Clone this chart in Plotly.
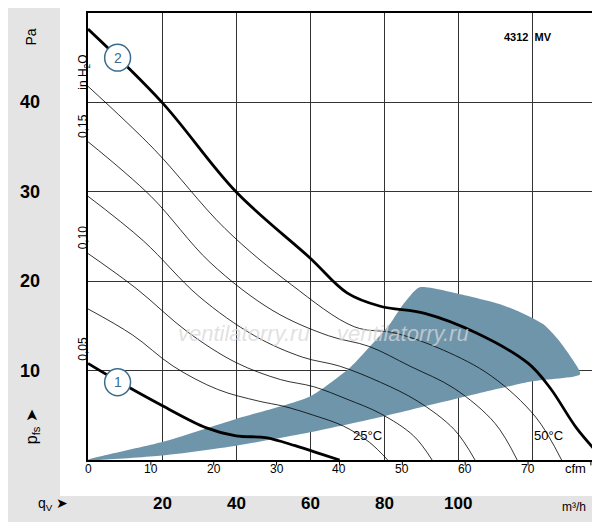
import plotly.graph_objects as go

# data in m3/h and Pa
c2_q = [0, 20, 40, 60, 70, 79, 91, 105, 119, 125, 132, 139.5]
c2_p = [48.2, 40, 30, 22.6, 18.7, 17.2, 16.4, 14.2, 10.8, 8.0, 3.6, 0]
c1_q = [0, 6.5, 20, 32, 40, 48, 56, 62, 68]
c1_p = [10.8, 9.2, 6.1, 3.6, 2.7, 2.5, 1.6, 0.8, 0]
thin = [
    ([0, 12, 23, 35, 46, 53, 61, 69, 76, 81], [16.9, 14.0, 10.5, 7.9, 6.6, 6.0, 5.0, 3.8, 2.0, 0]),
    ([0, 13, 27, 40, 52, 61, 70, 79, 88, 93], [23.1, 19.2, 14.3, 10.9, 9.0, 8.2, 6.8, 5.2, 2.7, 0]),
    ([0, 15, 30, 45, 58, 68, 79, 89, 99, 104.6], [29.5, 24.5, 18.3, 13.9, 11.5, 10.5, 8.7, 6.6, 3.4, 0]),
    ([0, 17, 33, 50, 65, 76, 87, 99, 110, 116], [35.6, 29.5, 22.1, 16.7, 13.9, 12.7, 10.5, 8.0, 4.1, 0]),
    ([0, 18, 37, 55, 72, 83, 96, 109, 121, 128], [41.8, 34.7, 25.9, 19.6, 14.9, 14.2, 12.3, 9.4, 4.8, 0]),
]
area_q = [0, 20, 40, 60, 80, 100, 120, 133, 131, 127, 123, 117, 111.6, 100, 89.5, 85, 81.6, 76, 71, 60, 40, 20, 0]
area_p = [0, 0.5, 1.6, 3.1, 4.9, 6.9, 8.8, 9.6, 11.2, 13.5, 15.2, 16.5, 17.4, 18.6, 19.3, 17.3, 15.2, 12.6, 10.4, 7.1, 4.6, 2.0, 0]
pa_ticks = [10, 20, 30, 40]
inh2o_ticks = ["0,05", "0,10", "0,15"]
inh2o_vals = [0.05, 0.10, 0.15]
cfm_ticks = [0, 10, 20, 30, 40, 50, 60, 70]
m3h_ticks = [20, 40, 60, 80, 100]

F = "Liberation Sans"
fig = go.Figure()
fig.add_trace(go.Scatter(x=area_q, y=area_p, fill="toself", fillcolor="#6f95ab",
                         line=dict(width=0, shape="spline", smoothing=0.6), mode="lines", hoverinfo="skip"))
for q, p in thin:
    fig.add_trace(go.Scatter(x=q, y=p, mode="lines", line=dict(color="black", width=0.8, shape="spline")))
fig.add_trace(go.Scatter(x=c2_q, y=c2_p, mode="lines", line=dict(color="black", width=2.8, shape="spline")))
fig.add_trace(go.Scatter(x=c1_q, y=c1_p, mode="lines", line=dict(color="black", width=2.8, shape="spline")))

gray = "#e4e4e4"
shapes = [
    dict(type="rect", xref="paper", yref="paper", x0=-0.16, x1=-0.054, y0=-0.17, y1=1.02,
         fillcolor=gray, line=dict(width=0), layer="below"),
    dict(type="rect", xref="paper", yref="paper", x0=-0.16, x1=1.01, y0=-0.17, y1=-0.0805,
         fillcolor=gray, line=dict(width=0), layer="below"),
]
for c in cfm_ticks[1:] + [80]:
    shapes.append(dict(type="line", xref="x", yref="paper", x0=c * 1.699, x1=c * 1.699,
                       y0=0, y1=-0.012, line=dict(color="black", width=1)))

ann = []
for v in pa_ticks:
    ann.append(dict(x=-0.135, xref="paper", y=v, yref="y", text=f"<b>{v}</b>", showarrow=False,
                    font=dict(size=18, family=F, color="black")))
for t, v in zip(inh2o_ticks, inh2o_vals):
    ann.append(dict(x=-0.027, xref="paper", y=v * 249.1, yref="y", text=t, showarrow=False, textangle=-90,
                    font=dict(size=12, family=F, color="black")))
for c in cfm_ticks:
    ann.append(dict(x=c * 1.699, xref="x", y=-0.04, yref="paper", text=str(c), showarrow=False,
                    font=dict(size=12, family=F, color="black")))
for m in m3h_ticks:
    ann.append(dict(x=m, xref="x", y=-0.122, yref="paper", text=f"<b>{m}</b>", showarrow=False,
                    font=dict(size=17, family=F, color="black")))
ann += [
    dict(x=-0.13, xref="paper", y=0.97, yref="paper", text="Pa", textangle=-90, showarrow=False,
         font=dict(size=14, family=F, color="black")),
    dict(x=-0.027, xref="paper", y=0.91, yref="paper", text="in H<sub>2</sub>O", textangle=-90, showarrow=False,
         font=dict(size=12, family=F, color="black")),
    dict(x=-0.13, xref="paper", y=0.03, yref="paper", text="p<sub>fs</sub> ➤", textangle=-90, showarrow=False,
         font=dict(size=16, family=F, color="black")),
    dict(x=-0.1, xref="paper", y=-0.122, yref="paper", text="q<sub>V</sub> ➤", showarrow=False,
         font=dict(size=14, family=F, color="black")),
    dict(x=0.965, xref="paper", y=-0.125, yref="paper", text="m³/h", showarrow=False,
         font=dict(size=12, family=F, color="black")),
    dict(x=0.965, xref="paper", y=-0.04, yref="paper", text="cfm", showarrow=False,
         font=dict(size=13, family=F, color="black")),
    dict(x=0.9, xref="paper", y=0.965, yref="paper", text="<b>4312  MV</b>", showarrow=False,
         font=dict(size=11, family=F, color="black")),
    dict(x=0.54, xref="paper", y=0.034, yref="paper", text="25°C", showarrow=False,
         font=dict(size=13, family=F, color="black")),
    dict(x=0.92, xref="paper", y=0.034, yref="paper", text="50°C", showarrow=False,
         font=dict(size=13, family=F, color="black")),
    dict(x=0.17, xref="paper", y=0.25, yref="paper", text="<i>ventilatorry.ru</i>", showarrow=False,
         font=dict(size=22, family=F, color="rgba(215,215,215,0.75)")),
    dict(x=0.74, xref="paper", y=0.25, yref="paper", text="<i>ventilatorry.ru</i>", showarrow=False,
         font=dict(size=22, family=F, color="rgba(215,215,215,0.75)")),
]
for lbl, q, p in [("1", 8, 8.7), ("2", 8, 45.0)]:
    ann.append(dict(x=q, y=p, xref="x", yref="y", text=lbl, showarrow=False,
                    font=dict(size=14, family=F, color="#3a6d8c")))
    shapes.append(dict(type="circle", xref="x", yref="y", x0=q - 3.5, x1=q + 3.5, y0=p - 1.5, y1=p + 1.5,
                       fillcolor="white", line=dict(color="#3a6d8c", width=1.5)))

fig.update_layout(width=600, height=522, margin=dict(l=80, r=2, t=5, b=70, pad=0, autoexpand=False),
                  plot_bgcolor="white", paper_bgcolor="white", showlegend=False,
                  shapes=shapes, annotations=ann,
                  xaxis=dict(range=[0, 140], dtick=20, tick0=0, showticklabels=False, ticks="",
                             showgrid=True, gridcolor="#333", gridwidth=1, zeroline=False,
                             showline=True, linecolor="black", linewidth=1.5, mirror=True),
                  yaxis=dict(range=[0, 50], dtick=10, showticklabels=False, ticks="",
                             showgrid=True, gridcolor="#333", gridwidth=1, zeroline=False,
                             showline=True, linecolor="black", linewidth=1.5, mirror=True))
fig.write_html("out.html")
